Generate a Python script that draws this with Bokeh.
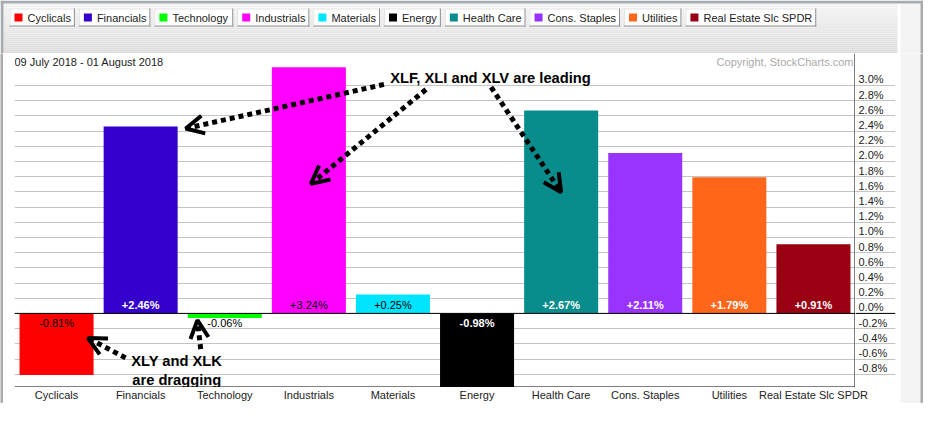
from bokeh.plotting import figure
from bokeh.layouts import column, row
from bokeh.models import (ColumnDataSource, FactorRange, Range1d, LinearAxis, FixedTicker,
                          PrintfTickFormatter, Span, Label, Arrow, OpenHead, Grid)
from bokeh.embed import file_html
from bokeh.resources import INLINE
from bokeh.core.properties import value

# ---------------- data ----------------
categories = ["Cyclicals", "Financials", "Technology", "Industrials", "Materials", "Energy",
              "Health Care", "Cons. Staples", "Utilities", "Real Estate Slc SPDR"]
changes = [-0.81, 2.46, -0.06, 3.24, 0.25, -0.98, 2.67, 2.11, 1.79, 0.91]
colors = ["#ff0000", "#3300cc", "#00ff00", "#ff00ff", "#00e5ff", "#000000",
          "#088c8c", "#9933ff", "#ff6619", "#990011"]
y_ticks = [-0.8, -0.6, -0.4, -0.2, 0.0, 0.2, 0.4, 0.6, 0.8, 1.0, 1.2, 1.4,
           1.6, 1.8, 2.0, 2.2, 2.4, 2.6, 2.8, 3.0]
date_text = "09 July 2018 - 01 August 2018"
copyright_text = "Copyright, StockCharts.com"
lead_text = "XLF, XLI and XLV are leading"
drag_text = ["XLY and XLK", "are dragging"]

# ---------------- style / layout ----------------
FONT = "Liberation Sans"
light_bars = {"Cyclicals", "Technology", "Industrials", "Materials"}  # black labels
Y0, Y1 = -0.975, 3.42
SHIFT = 0.079          # tick labels sit slightly above their gridline (% units)
W, H = 923, 406
HDR_H, BOT_H, LEFT_W, RIGHT_W, AXIS_W = 53, 3, 3, 23, 45
MID_H = H - HDR_H - BOT_H
XLAB_H = 16
PLOT_H = MID_H - XLAB_H
INNER_W = W - LEFT_W - RIGHT_W
MAIN_W = INNER_W - AXIS_W
LEFT_PAD = 11
GRID = "#c4c4c4"
BORDER = "#a8abae"
TXT = "#222222"

# Arial / Liberation Sans advance widths (1/1000 em), used to size the legend buttons
CHAR_W = {" ": 278, ".": 278, "C": 722, "D": 722, "E": 667, "F": 611, "H": 722, "I": 278,
          "M": 833, "P": 667, "R": 722, "S": 667, "T": 611, "U": 722, "a": 556, "c": 500,
          "d": 556, "e": 556, "g": 556, "h": 556, "i": 222, "l": 222, "n": 556, "o": 556,
          "p": 556, "r": 333, "s": 500, "t": 278, "u": 556, "y": 500}


def text_w(s, size=11):
    return sum(CHAR_W.get(ch, 556) for ch in s) * size / 1000.0


def blank(w, h, bg):
    f = figure(width=w, height=h, x_range=Range1d(0, w), y_range=Range1d(h, 0),
               output_backend="svg", toolbar_location=None, x_axis_location=None,
               y_axis_location=None, min_border=0, title=None)
    f.outline_line_color = None
    f.grid.visible = False
    f.background_fill_color = bg
    f.border_fill_color = bg
    return f


# ---------------- header: legend band with buttons ----------------
hdr = blank(W, HDR_H, "white")
n = 25
band_l, band_r = 3, 897
for i in range(n):
    g = int(round(243 - (243 - 220) * i / (n - 1)))
    hdr.quad(left=band_l, right=band_r, top=3 + 2 * i, bottom=5 + 2 * i,
             fill_color="#%02x%02x%02x" % (g, g, g), line_color=None)
hdr.quad(left=900, right=920, top=3, bottom=HDR_H, fill_color="#f4f4f4", line_color=None)
hdr.quad(left=[0, 0, W - 3], right=[W, 3, W], top=[0, 0, 0], bottom=[3, HDR_H, HDR_H],
         fill_color=BORDER, line_color=None)

bx0, bx1 = [], []
x = 9
for c in categories:
    w = 18 + text_w(c) + 4
    bx0.append(x)
    bx1.append(x + w)
    x += w + 4
hdr.quad(left=bx0, right=bx1, top=8, bottom=26, fill_color="white", line_color=None)
hdr.segment(x0=bx0, y0=8.5, x1=bx1, y1=8.5, line_color="#e4e4e4", line_width=1)
hdr.segment(x0=[b + 0.5 for b in bx0], y0=8, x1=[b + 0.5 for b in bx0], y1=26,
            line_color="#e4e4e4", line_width=1)
hdr.segment(x0=bx0, y0=25.5, x1=bx1, y1=25.5, line_color="#8c8c8c", line_width=1)
hdr.segment(x0=[b - 0.5 for b in bx1], y0=8, x1=[b - 0.5 for b in bx1], y1=26,
            line_color="#8c8c8c", line_width=1)
hdr.quad(left=[b + 5 for b in bx0], right=[b + 13 for b in bx0], top=13, bottom=21,
         fill_color=colors, line_color=None)
hdr.text(x=[b + 18 for b in bx0], y=17, text=categories, text_baseline="middle",
         text_align="left", text_font=value(FONT), text_font_size="11px", text_color=TXT)

# ---------------- main chart ----------------
x_range = FactorRange(*categories)
y_range = Range1d(Y0, Y1)
p = figure(width=MAIN_W, height=PLOT_H, x_range=x_range, y_range=y_range,
           output_backend="svg", toolbar_location=None, x_axis_location=None,
           y_axis_location=None, title=None, min_border_left=LEFT_PAD,
           min_border_right=0, min_border_top=0, min_border_bottom=0)
p.outline_line_color = None
p.background_fill_color = "white"
p.border_fill_color = "white"
p.grid.visible = False
p.add_layout(Grid(dimension=1, ticker=FixedTicker(ticks=y_ticks), grid_line_color=GRID))

# frame lines (bottom and right)
p.add_layout(Span(location=Y0, dimension="width", line_color="black", line_width=2))
p.add_layout(Span(location=len(categories), dimension="height", line_color="black",
                  line_width=2))

labels = [f"{v:+.2f}%" for v in changes]
tcolor = ["black" if c in light_bars else "white" for c in categories]
tstyle = ["normal" if c in light_bars else "bold" for c in categories]
yoff = [-8.5 if v >= 0 else 10 for v in changes]
src = ColumnDataSource(dict(cat=categories, val=changes, color=colors, label=labels,
                            tcolor=tcolor, tstyle=tstyle, yoff=yoff))
bars = p.vbar(x="cat", top="val", bottom=0, width=0.88, fill_color="color",
              line_color=None, source=src)
p.add_layout(Span(location=0, dimension="width", line_color="black", line_width=1))
p.text(x="cat", y=0, text="label", y_offset="yoff", text_color="tcolor",
       text_font_style="tstyle", text_align="center", text_baseline="middle",
       text_font=value(FONT), text_font_size="11px", source=src)

p.add_layout(Label(x=0, y=Y1, text=date_text, text_baseline="top", y_offset=-2,
                   text_font=FONT, text_font_size="11px", text_color=TXT))
p.add_layout(Label(x=len(categories), y=Y1, text=copyright_text, text_baseline="top",
                   text_align="right", x_offset=-2, y_offset=-2,
                   text_font=FONT, text_font_size="11px", text_color="#aaaaaa"))

# callouts (data coordinates: category slot, percent)
arrows = [((4.393, 3.013), (2.036, 2.433)),
          ((4.893, 2.946), (3.524, 1.704)),
          ((5.667, 2.977), (6.500, 1.594)),
          ((1.321, -0.585), (0.873, -0.325)),
          ((2.214, -0.470), (2.175, -0.088))]
for (xs, ys), (xe, ye) in arrows:
    p.add_layout(Arrow(x_start=xs, y_start=ys, x_end=xe, y_end=ye, line_color="black",
                       line_width=5, line_dash="5 4",
                       end=OpenHead(size=18, line_width=4, line_color="black")))
p.add_layout(Label(x=4.468, y=3.096, text=lead_text, text_baseline="middle",
                   text_align="left", text_font=FONT, text_font_style="bold",
                   text_font_size="14.7px", text_color="black"))
for t, yy in zip(drag_text, [-0.624, -0.878]):
    p.add_layout(Label(x=1.929, y=yy, text=t, text_baseline="middle", text_align="center",
                       text_font=FONT, text_font_style="bold", text_font_size="14.7px",
                       text_color="black"))

# ---------------- value axis column (gridlines run on under the labels) ----------------
ya = figure(width=AXIS_W, height=PLOT_H, x_range=Range1d(0, 1), y_range=y_range,
            output_backend="svg", toolbar_location=None, x_axis_location=None,
            y_axis_location=None, title=None,
            min_border_left=0, min_border_right=5, min_border_top=0, min_border_bottom=0)
ya.outline_line_color = None
ya.background_fill_color = "white"
ya.border_fill_color = "white"
ya.grid.visible = False
ya.add_layout(Grid(dimension=1, ticker=FixedTicker(ticks=y_ticks), grid_line_color=GRID))
ya.add_layout(Span(location=0, dimension="width", line_color="black", line_width=1))
ya.extra_y_ranges = {"lab": Range1d(Y0 - SHIFT, Y1 - SHIFT)}
ax = LinearAxis(y_range_name="lab", ticker=FixedTicker(ticks=y_ticks),
                formatter=PrintfTickFormatter(format="%.1f%%"))
ax.major_tick_out = 0
ax.major_tick_in = 0
ax.minor_tick_out = 0
ax.minor_tick_in = 0
ax.minor_tick_line_color = None
ax.major_tick_line_color = None
ax.axis_line_color = None
ax.major_label_standoff = -(AXIS_W - 5) + 3
ax.major_label_text_font = FONT
ax.major_label_text_font_size = "11px"
ax.major_label_text_color = TXT
ya.add_layout(ax, "right")

# ---------------- category axis strip (shares the bars' factor range) ----------------
xl = figure(width=INNER_W, height=XLAB_H, x_range=x_range, y_range=Range1d(0, 1),
            output_backend="svg", toolbar_location=None, y_axis_location=None, title=None,
            min_border_left=LEFT_PAD, min_border_right=AXIS_W, min_border_top=0,
            min_border_bottom=14)
xl.outline_line_color = None
xl.background_fill_color = "white"
xl.border_fill_color = "white"
xl.grid.visible = False
xa = xl.xaxis[0]
xa.axis_line_color = None
xa.major_tick_line_color = None
xa.minor_tick_line_color = None
xa.major_tick_out = 0
xa.major_label_standoff = 1
xa.major_label_text_font = FONT
xa.major_label_text_font_size = "11px"
xa.major_label_text_color = TXT

# ---------------- side strips ----------------
left = blank(LEFT_W, MID_H, BORDER)
right = blank(RIGHT_W, MID_H, "#f4f4f4")
right.quad(left=RIGHT_W - 3, right=RIGHT_W, top=0, bottom=MID_H, fill_color=BORDER,
           line_color=None)
bottom = blank(W, BOT_H, BORDER)

layout = column(hdr, row(left, column(row(p, ya), xl), right), bottom)
open("out.html", "w").write(file_html(layout, INLINE))
